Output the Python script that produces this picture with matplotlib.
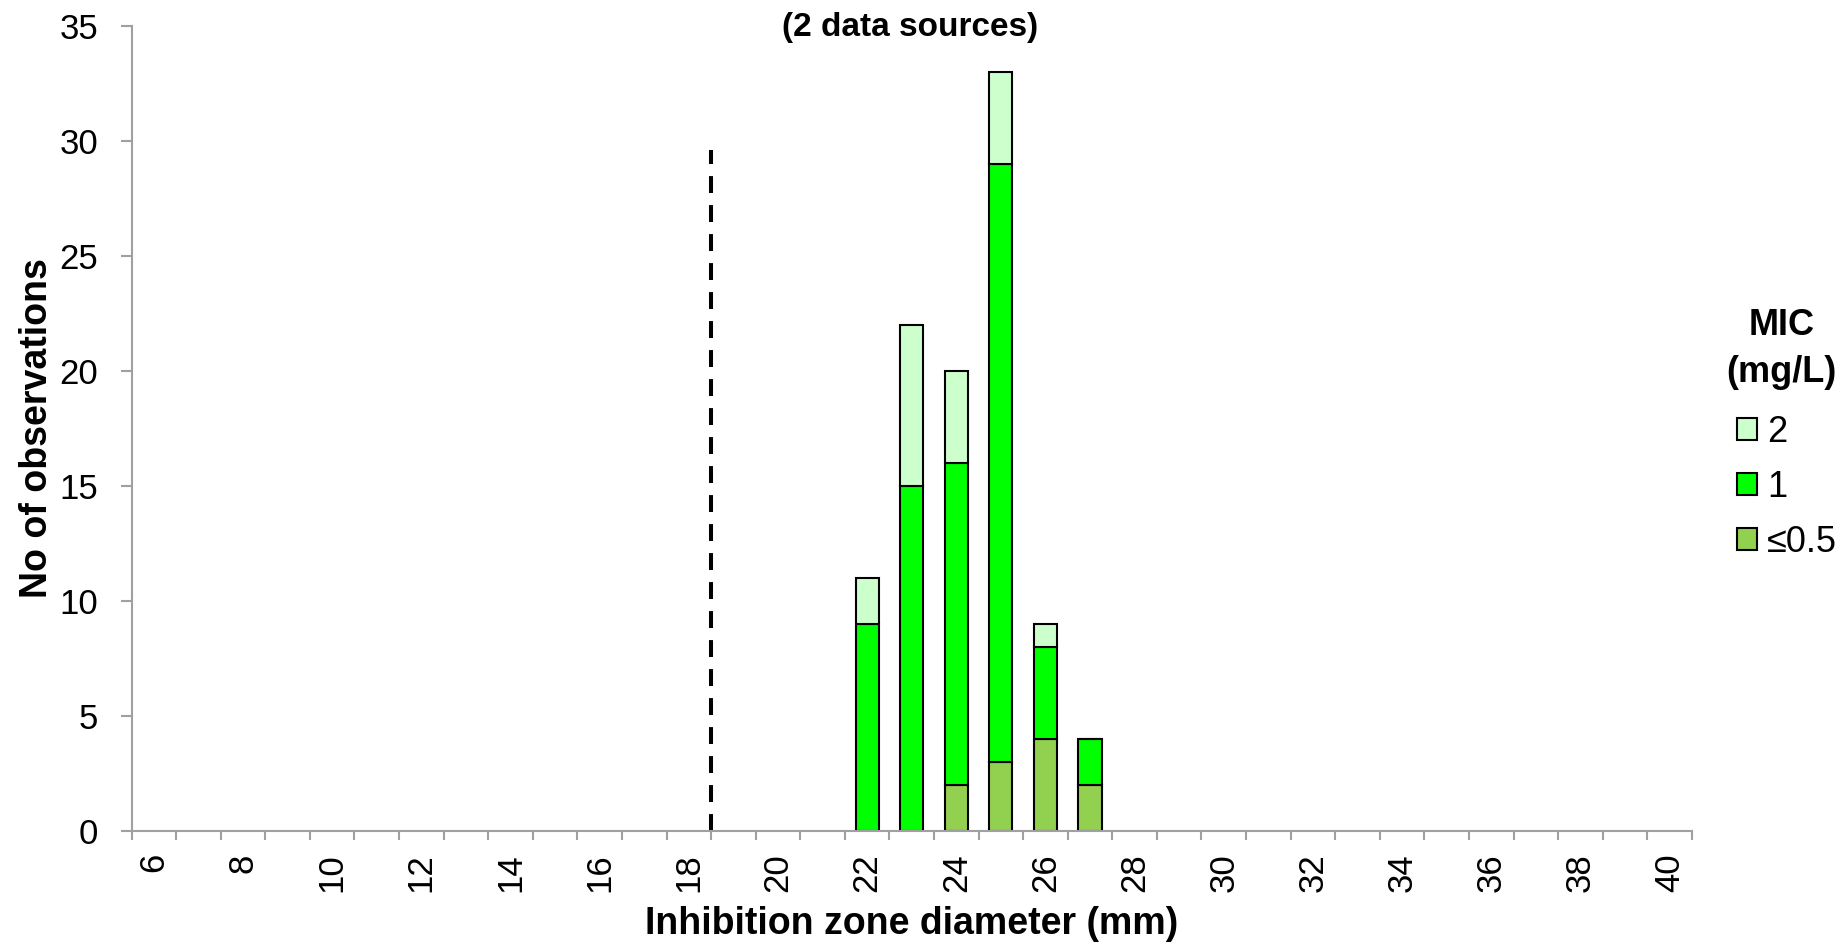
import numpy as np
import matplotlib.pyplot as plt
from matplotlib.patches import Patch

plt.rcParams['font.family'] = ['Liberation Sans', 'DejaVu Sans']

# zone diameters with observations
zones = [22, 23, 24, 25, 26, 27]
mic_05 = [0, 0, 2, 3, 4, 2]     # <=0.5 mg/L
mic_1 = [9, 15, 14, 26, 4, 2]   # 1 mg/L
mic_2 = [2, 7, 4, 4, 1, 0]      # 2 mg/L

x_labels = list(range(6, 41, 2))
breakpoint_mm = 18.5
breakpoint_top = 29.6

col_05 = '#92D050'
col_1 = '#00FF00'
col_2 = '#CCFFCC'
grey = '#A0A0A0'

fig = plt.figure(figsize=(18.43, 9.44), dpi=100)
ax = fig.add_axes([0.0714, 0.1197, 0.8466, 0.8528])

zones = np.array(zones)
b05 = np.array(mic_05)
b1 = np.array(mic_1)
b2 = np.array(mic_2)
w = 0.52
ax.bar(zones, b05, w, color=col_05, edgecolor='black', linewidth=1.5)
ax.bar(zones, b1, w, bottom=b05, color=col_1, edgecolor='black', linewidth=1.5)
ax.bar(zones, b2, w, bottom=b05 + b1, color=col_2, edgecolor='black', linewidth=1.5)

# breakpoint
ax.plot([breakpoint_mm, breakpoint_mm], [0, breakpoint_top], color='black',
        linestyle=(0, (4.2, 3)), linewidth=2.9)

ax.set_xlim(5.5, 40.5)
ax.set_ylim(0, 35)
ax.set_yticks(range(0, 36, 5))
ax.set_xticks(x_labels)
ax.set_xticklabels([str(v) for v in x_labels], rotation=90)
ax.set_xticks(np.arange(5.5, 41, 1), minor=True)
ax.tick_params(axis='x', which='major', length=0, pad=16, labelsize=25)
ax.tick_params(axis='x', which='minor', length=6.5, width=1.5, color=grey)
ax.tick_params(axis='y', length=8, width=1.5, color=grey, labelsize=25, pad=16)

for s in ['top', 'right']:
    ax.spines[s].set_visible(False)
for s in ['left', 'bottom']:
    ax.spines[s].set_color(grey)
    ax.spines[s].set_linewidth(1.5)

ax.set_xlabel('Inhibition zone diameter (mm)', fontsize=27, fontweight='bold', labelpad=10)
ax.set_ylabel('No of observations', fontsize=27, fontweight='bold', labelpad=3)
fig.text(0.494, 0.971, '(2 data sources)', ha='center', va='center',
         fontsize=24, fontweight='bold')

# legend
handles = [Patch(facecolor=col_2, edgecolor='black', linewidth=1.5),
           Patch(facecolor=col_1, edgecolor='black', linewidth=1.5),
           Patch(facecolor=col_05, edgecolor='black', linewidth=1.5)]
ax.legend(handles, ['2', '1', '≤0.5'], frameon=False,
          loc='center left', bbox_to_anchor=(1.0125, 0.427), fontsize=26,
          handlelength=0.55, handleheight=0.55, handletextpad=0.3,
          labelspacing=0.56, borderpad=0.2)
fig.text(0.9666, 0.6557, 'MIC', ha='center', va='center', fontsize=26, fontweight='bold')
fig.text(0.9666, 0.6049, '(mg/L)', ha='center', va='center', fontsize=26, fontweight='bold')

fig.savefig('out.png', dpi=100)
